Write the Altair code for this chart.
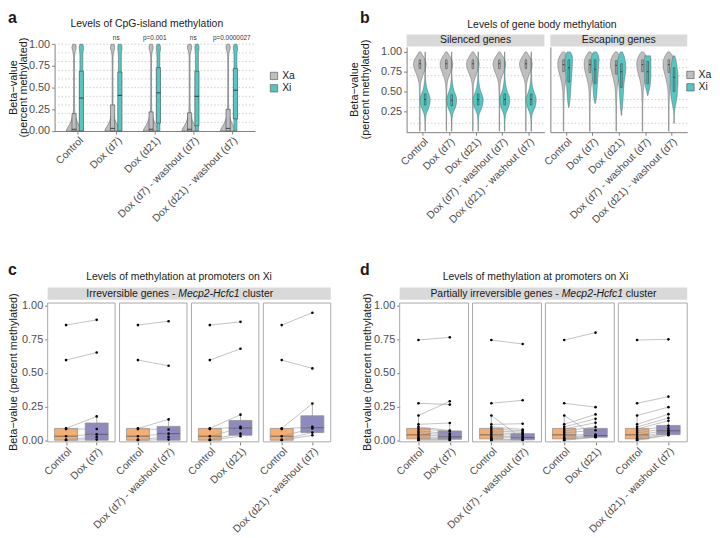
import json
import altair as alt
import pandas as pd

# ---------------- data ----------------
conditions = ["Control", "Dox (d7)", "Dox (d21)", "Dox (d7) - washout (d7)", "Dox (d21) - washout (d7)"]
alleles = ["Xa", "Xi"]

# panel a: CpG-island methylation violins (half-widths in category units at each beta level)
a_levels = [0.0, 0.02, 0.05, 0.1, 0.15, 0.2, 0.3, 0.5, 0.7, 0.85, 0.9, 0.93, 0.96, 0.98, 1.0]
a_xa_width = [0.20, 0.19, 0.15, 0.09, 0.05, 0.025, 0.012, 0.01, 0.01, 0.012, 0.02, 0.04, 0.055, 0.05, 0.03]
a_xi_width = [0.04, 0.04, 0.04, 0.04, 0.04, 0.04, 0.038, 0.038, 0.038, 0.038, 0.04, 0.05, 0.055, 0.05, 0.035]
a_xa_q1 = [0.0, 0.0, 0.0, 0.0, 0.0]
a_xa_med = [0.02, 0.03, 0.02, 0.02, 0.03]
a_xa_q3 = [0.20, 0.30, 0.22, 0.21, 0.25]
a_xi_q1 = [0.0, 0.0, 0.09, 0.06, 0.14]
a_xi_med = [0.38, 0.41, 0.44, 0.40, 0.47]
a_xi_q3 = [0.69, 0.68, 0.73, 0.69, 0.72]
a_pvalues = ["", "ns", "p=0.001", "ns", "p=0.0000027"]
a_grid = [0.1, 0.2, 0.3, 0.4, 0.5, 0.6, 0.7, 0.8, 0.9, 1.0]

# panel b: gene body methylation violins
b_levels = [0.0, 0.1, 0.2, 0.25, 0.3, 0.35, 0.4, 0.45, 0.5, 0.55, 0.6, 0.65, 0.7, 0.75, 0.8, 0.85, 0.9, 0.95, 1.0]
b_sil_xa_width = [0.01, 0.01, 0.01, 0.01, 0.01, 0.01, 0.012, 0.012, 0.015, 0.02, 0.03, 0.06, 0.11, 0.17, 0.22, 0.24, 0.2, 0.12, 0.03]
b_sil_xi_width = [0.008, 0.01, 0.03, 0.08, 0.14, 0.18, 0.19, 0.16, 0.1, 0.06, 0.035, 0.02, 0.012, 0.01, 0.01, 0.01, 0.008, 0.008, 0.006]
b_esc_xa_width = [0.01, 0.01, 0.01, 0.012, 0.012, 0.015, 0.02, 0.025, 0.03, 0.045, 0.07, 0.1, 0.14, 0.18, 0.21, 0.22, 0.2, 0.14, 0.04]
b_esc_xi_width = [
    [0.0, 0.0, 0.0, 0.0, 0.01, 0.03, 0.05, 0.06, 0.07, 0.08, 0.09, 0.1, 0.11, 0.12, 0.13, 0.14, 0.15, 0.13, 0.06],
    [0.0, 0.0, 0.0, 0.0, 0.0, 0.01, 0.04, 0.06, 0.07, 0.08, 0.09, 0.1, 0.11, 0.12, 0.13, 0.14, 0.15, 0.13, 0.06],
    [0.0, 0.0, 0.01, 0.02, 0.04, 0.05, 0.06, 0.07, 0.08, 0.09, 0.1, 0.12, 0.14, 0.16, 0.17, 0.16, 0.14, 0.1, 0.04],
    [0.0, 0.0, 0.0, 0.0, 0.0, 0.0, 0.0, 0.01, 0.04, 0.08, 0.1, 0.11, 0.12, 0.12, 0.12, 0.12, 0.12, 0.11, 0.0],
    [0.0, 0.01, 0.01, 0.02, 0.04, 0.07, 0.1, 0.12, 0.13, 0.14, 0.15, 0.15, 0.15, 0.14, 0.12, 0.1, 0.07, 0.03, 0.0],
]
b_sil_xa_q1 = [0.79, 0.79, 0.79, 0.79, 0.79]
b_sil_xa_med = [0.85, 0.85, 0.85, 0.85, 0.85]
b_sil_xa_q3 = [0.90, 0.90, 0.90, 0.90, 0.90]
b_sil_xi_q1 = [0.33, 0.32, 0.33, 0.33, 0.33]
b_sil_xi_med = [0.40, 0.39, 0.40, 0.40, 0.40]
b_sil_xi_q3 = [0.47, 0.46, 0.47, 0.47, 0.47]
b_esc_xa_q1 = [0.75, 0.74, 0.72, 0.75, 0.74]
b_esc_xa_med = [0.84, 0.84, 0.83, 0.84, 0.84]
b_esc_xa_q3 = [0.90, 0.90, 0.89, 0.90, 0.90]
b_esc_xi_q1 = [0.62, 0.60, 0.55, 0.60, 0.50]
b_esc_xi_med = [0.80, 0.78, 0.75, 0.75, 0.68]
b_esc_xi_q3 = [0.90, 0.90, 0.85, 0.88, 0.80]
b_grid = [0.1, 0.3, 0.4, 0.7, 0.8, 0.9]

# panel c: irreversible genes (control vs treatment, paired genes)
c_labels = ["Dox (d7)", "Dox (d7) - washout (d7)", "Dox (d21)", "Dox (d21) - washout (d7)"]
c_control = [0.856, 0.596, 0.088, 0.083, 0.03, 0.005, 0.0]
c_treated = [
    [0.895, 0.652, 0.177, 0.084, 0.044, 0.025, 0.005],
    [0.885, 0.554, 0.155, 0.080, 0.049, 0.025, 0.005],
    [0.880, 0.680, 0.190, 0.100, 0.090, 0.049, 0.030],
    [0.948, 0.534, 0.273, 0.100, 0.088, 0.057, 0.037],
]
# box summaries: lower whisker, q1, median, q3, upper whisker
c_control_box = [0.0, 0.0, 0.03, 0.088, 0.088]
c_treated_box = [
    [0.0, 0.0, 0.044, 0.128, 0.177],
    [0.0, 0.0, 0.049, 0.103, 0.155],
    [0.03, 0.037, 0.091, 0.147, 0.19],
    [0.037, 0.057, 0.093, 0.182, 0.273],
]

# panel d: partially irreversible genes
d_labels = ["Dox (d7)", "Dox (d7) - washout (d7)", "Dox (d21)", "Dox (d21) - washout (d7)"]
d_control = [0.745, 0.275, 0.184, 0.118, 0.099, 0.084, 0.069, 0.055, 0.04, 0.025, 0.015, 0.005, 0.0]
d_treated = [
    [0.765, 0.265, 0.290, 0.128, 0.072, 0.068, 0.050, 0.040, 0.030, 0.020, 0.012, 0.005, 0.0],
    [0.715, 0.297, 0.010, 0.123, 0.080, 0.070, 0.060, 0.050, 0.040, 0.030, 0.020, 0.005, 0.0],
    [0.800, 0.246, 0.030, 0.192, 0.160, 0.130, 0.098, 0.074, 0.042, 0.035, 0.030, 0.025, 0.022],
    [0.750, 0.324, 0.246, 0.194, 0.165, 0.145, 0.108, 0.088, 0.074, 0.060, 0.050, 0.042, 0.037],
]
d_control_box = [0.0, 0.01, 0.04, 0.088, 0.184]
d_treated_box = [
    [0.0, 0.007, 0.025, 0.069, 0.128],
    [0.0, 0.003, 0.02, 0.049, 0.08],
    [0.022, 0.022, 0.035, 0.088, 0.16],
    [0.037, 0.042, 0.07, 0.11, 0.194],
]

# ---------------- layout & style ----------------
FONT = "Liberation Sans"
GRAY, TEAL, ORANGE, PURPLE = "#bebebe", "#55c6c1", "#f5ae72", "#8e8ac0"
TXT = "#1a1a1a"
W, H = 710, 528

A_X, A_Y = [47, 249], [121.8, 34.3]
B1_X, B2_X, B_Y, B_DOM = [402, 541], [547, 685], [123, 37], [-0.0125, 1.0625]
C_X = [[40, 108], [112.5, 180.5], [185, 253], [257.5, 325.5]]
D_X = [[395, 464.5], [468.5, 538], [542, 611.5], [615.5, 685]]
CD_Y, CD_DOM = [435.3, 295.3], [-0.012, 1.02]
BOX_HW = 0.375

AX = dict(grid=False, title=None, domainColor="#808080", tickColor="#808080",
          labelColor="#4d4d4d", labelFont=FONT, tickSize=3)


def lin(domain, rng):
    return alt.Scale(domain=domain, range=rng, nice=False, zero=False)


def cond_axis(labels, bottom, domain=True):
    expr = json.dumps(labels) + "[datum.value - 1]"
    return alt.Axis(orient="bottom", offset=bottom - H, values=list(range(1, len(labels) + 1)),
                    labelExpr=expr, labelAngle=-45, labelAlign="right", labelBaseline="top",
                    labelOverlap=False, labelFlush=False, domain=domain, labelFontSize=10.5,
                    labelPadding=1, **AX)


def y_axis(left, values, labels=True, ticks=True, domain=True):
    return alt.Axis(orient="left", offset=-left, values=values, format=".2f", labels=labels,
                    ticks=ticks, domain=domain, labelOverlap=False, labelFontSize=11,
                    labelPadding=2, **AX)


def violin_df(levels, xa_widths, xi_widths):
    rows = []
    for allele, wl in (("Xa", xa_widths), ("Xi", xi_widths)):
        for i, ws in enumerate(wl):
            for beta, hw in zip(levels, ws):
                if hw > 0:
                    rows.append(dict(idx=i + 1, allele=allele, vid=f"{allele}{i}", beta=beta, hw=hw))
    return pd.DataFrame(rows)


def box_df(xa, xi):
    rows = []
    for allele, (q1s, meds, q3s) in (("Xa", xa), ("Xi", xi)):
        for i in range(len(conditions)):
            rows.append(dict(idx=i + 1, allele=allele, q1=q1s[i], med=meds[i], q3=q3s[i]))
    return pd.DataFrame(rows)


def violin_panel(vdf, bdf, xr, yr, ydom, dodge, box_hw, grid, yaxis, legend, pvals=None, lw=0.5):
    sx = lin([0.4, 5.6], xr)
    sy = lin(ydom, yr)
    fs = alt.Scale(domain=alleles, range=[GRAY, TEAL])
    centre = f"datum.idx + (datum.allele == 'Xa' ? {-dodge} : {dodge})"
    g = alt.Chart(pd.DataFrame({"g": grid})).mark_rule(
        color="#c4c4c4", strokeDash=[1.5, 2], strokeWidth=0.8).encode(
        y=alt.Y("g:Q", scale=sy, axis=yaxis),
        x=alt.XDatum(0.4, scale=sx, axis=None), x2=alt.X2Datum(5.6))
    v = alt.Chart(vdf).transform_calculate(
        left=f"{centre} - datum.hw", right=f"{centre} + datum.hw").mark_area(
        orient="horizontal", stroke="#555555", strokeWidth=lw, interpolate="monotone").encode(
        y=alt.Y("beta:Q", scale=sy, axis=None),
        x=alt.X("left:Q", scale=sx, axis=cond_axis(conditions, yr[0]), stack=None),
        x2="right:Q",
        fill=alt.Fill("allele:N", scale=fs, legend=legend),
        detail="vid:N")
    bx = alt.Chart(bdf).transform_calculate(cx=centre).transform_calculate(
        bl=f"datum.cx - {box_hw}", br=f"datum.cx + {box_hw}")
    b = bx.mark_rect(stroke="#333333", strokeWidth=0.5).encode(
        x=alt.X("bl:Q", scale=sx, axis=None), x2="br:Q",
        y=alt.Y("q1:Q", scale=sy, axis=None), y2="q3:Q",
        fill=alt.Fill("allele:N", scale=fs, legend=None))
    m = bx.mark_rule(color="#222222", strokeWidth=0.8).encode(
        x=alt.X("bl:Q", scale=sx, axis=None), x2="br:Q",
        y=alt.Y("med:Q", scale=sy, axis=None))
    layers = [g, v, b, m]
    if pvals is not None:
        pdf = pd.DataFrame({"idx": list(range(1, len(pvals) + 1)), "p": pvals})
        layers.append(alt.Chart(pdf).mark_text(font=FONT, fontSize=6.5, color="#333333", baseline="middle").encode(
            x=alt.X("idx:Q", scale=sx, axis=None), y=alt.value(28), text="p:N"))
    return layers


def pair_panel(xr, control, treated, cbox, tbox, tlabel, with_y):
    sx = lin([0.4, 2.6], xr)
    sy = lin(CD_DOM, CD_Y)
    rows = []
    for gi, (c, t) in enumerate(zip(control, treated)):
        rows.append(dict(gene=gi, idx=1, beta=c))
        rows.append(dict(gene=gi, idx=2, beta=t))
    pdf = pd.DataFrame(rows)
    bdf = pd.DataFrame({"idx": [1, 2], "grp": ["Control", "Treated"],
                        "lo": [cbox[0], tbox[0]], "q1": [cbox[1], tbox[1]], "med": [cbox[2], tbox[2]],
                        "q3": [cbox[3], tbox[3]], "hi": [cbox[4], tbox[4]]})
    yax = y_axis(xr[0], [0, 0.25, 0.5, 0.75, 1.0], domain=False) if with_y else None
    bx = alt.Chart(bdf).transform_calculate(bl=f"datum.idx - {BOX_HW}", br=f"datum.idx + {BOX_HW}")
    boxes = bx.mark_rect(stroke="#8c8c8c", strokeWidth=0.7).encode(
        x=alt.X("bl:Q", scale=sx, axis=None), x2="br:Q",
        y=alt.Y("q1:Q", scale=sy, axis=yax), y2="q3:Q",
        fill=alt.Fill("grp:N", scale=alt.Scale(domain=["Control", "Treated"], range=[ORANGE, PURPLE]), legend=None))
    wh = bx.mark_rule(color="#8c8c8c", strokeWidth=0.7).encode(
        x=alt.X("idx:Q", scale=sx, axis=cond_axis(["Control", tlabel], CD_Y[0], domain=False)),
        y=alt.Y("q3:Q", scale=sy, axis=None), y2="hi:Q")
    wl = bx.mark_rule(color="#8c8c8c", strokeWidth=0.7).encode(
        x=alt.X("idx:Q", scale=sx, axis=None),
        y=alt.Y("lo:Q", scale=sy, axis=None), y2="q1:Q")
    med = bx.mark_rule(color="#555555", strokeWidth=0.8).encode(
        x=alt.X("bl:Q", scale=sx, axis=None), x2="br:Q",
        y=alt.Y("med:Q", scale=sy, axis=None))
    lines = alt.Chart(pdf).mark_line(color="#9a9a9a", strokeWidth=0.6).encode(
        x=alt.X("idx:Q", scale=sx, axis=None), y=alt.Y("beta:Q", scale=sy, axis=None), detail="gene:N")
    pts = alt.Chart(pdf).mark_circle(color="black", size=7, opacity=1).encode(
        x=alt.X("idx:Q", scale=sx, axis=None), y=alt.Y("beta:Q", scale=sy, axis=None))
    border = alt.Chart(pd.DataFrame({"k": [0]})).mark_rect(
        fill="white", fillOpacity=0, stroke="#a8a8a8", strokeWidth=1).encode(
        x=alt.XDatum(0.4, scale=sx, axis=None), x2=alt.X2Datum(2.6),
        y=alt.YDatum(CD_DOM[0], scale=sy, axis=None), y2=alt.Y2Datum(CD_DOM[1]))
    return [boxes, wh, wl, med, lines, pts, border]


def text(t, x, y, size=10.5, weight="normal", style="normal", align="center", angle=0, baseline="middle"):
    return alt.Chart(pd.DataFrame({"t": [t]})).mark_text(
        font=FONT, fontSize=size, fontWeight=weight, fontStyle=style, align=align,
        baseline=baseline, angle=angle, color=TXT).encode(
        x=alt.value(x), y=alt.value(y), text="t:N")


def strip(x0, x1, y0, y1):
    return alt.Chart(pd.DataFrame({"s": [0]})).mark_rect(color="#d9d9d9").encode(
        x=alt.value(x0), x2=alt.value(x1), y=alt.value(y0), y2=alt.value(y1))


def legend(x, y):
    return alt.Legend(orient="none", legendX=x, legendY=y, title=None, symbolType="square",
                      symbolSize=55, symbolStrokeColor="#4d4d4d", symbolStrokeWidth=0.6,
                      labelFont=FONT, labelFontSize=10.5, labelColor=TXT, rowPadding=1.5,
                      padding=0, labelOffset=3)


# ---------------- panels ----------------
layers = []
layers += violin_panel(
    violin_df(a_levels, [a_xa_width] * 5, [a_xi_width] * 5),
    box_df((a_xa_q1, a_xa_med, a_xa_q3), (a_xi_q1, a_xi_med, a_xi_q3)),
    A_X, A_Y, [0, 1], 0.095, 0.055, a_grid,
    y_axis(A_X[0], [0, 0.25, 0.5, 0.75, 1.0]), legend(263, 61), pvals=a_pvalues)

layers += violin_panel(
    violin_df(b_levels, [b_sil_xa_width] * 5, [b_sil_xi_width] * 5),
    box_df((b_sil_xa_q1, b_sil_xa_med, b_sil_xa_q3), (b_sil_xi_q1, b_sil_xi_med, b_sil_xi_q3)),
    B1_X, B_Y, B_DOM, 0.1, 0.03, b_grid,
    y_axis(B1_X[0], [0.25, 0.5, 0.75, 1.0]), legend(683, 60), lw=0.4)

layers += violin_panel(
    violin_df(b_levels, [b_esc_xa_width] * 5, b_esc_xi_width),
    box_df((b_esc_xa_q1, b_esc_xa_med, b_esc_xa_q3), (b_esc_xi_q1, b_esc_xi_med, b_esc_xi_q3)),
    B2_X, B_Y, B_DOM, 0.1, 0.03, b_grid,
    y_axis(B2_X[0], [0.25, 0.5, 0.75, 1.0], labels=False, ticks=False), None, lw=0.4)

for i in range(4):
    layers += pair_panel(C_X[i], c_control, c_treated[i], c_control_box, c_treated_box[i], c_labels[i], i == 0)
for i in range(4):
    layers += pair_panel(D_X[i], d_control, d_treated[i], d_control_box, d_treated_box[i], d_labels[i], i == 0)

layers += [
    text("a", 0, 13, size=16, weight="bold", align="left", baseline="alphabetic"),
    text("b", 355, 13, size=16, weight="bold", align="left", baseline="alphabetic"),
    text("c", 0, 267, size=16, weight="bold", align="left", baseline="alphabetic"),
    text("d", 355, 267, size=16, weight="bold", align="left", baseline="alphabetic"),
    text("Levels of CpG-island methylation", 140, 14),
    text("Levels of gene body methylation", 538.5, 15),
    text("Levels of methylation at promoters on Xi", 172.5, 269.5),
    text("Levels of methylation at promoters on Xi", 532, 269.5),
    text("Beta\u2212value", 6, 78, size=11, angle=270),
    text("(percent methylated)", 16.5, 78, size=11, angle=270),
    text("Beta\u2212value", 350, 80, size=11, angle=270),
    text("(percent methylated)", 361, 80, size=11, angle=270),
    text("Beta\u2212value (percent methylated)", 6, 365, size=11, angle=270),
    text("Beta\u2212value (percent methylated)", 363, 365, size=11, angle=270),
    strip(B1_X[0], B1_X[1], 24.5, 36.5),
    strip(B2_X[0], B2_X[1], 24.5, 36.5),
    text("Silenced genes", 471.5, 30.5),
    text("Escaping genes", 616, 30.5),
    strip(C_X[0][0], C_X[3][1], 279.7, 292),
    text("Irreversible genes -", 79, 286, align="left"),
    text("Mecp2-Hcfc1", 171.8, 286, align="left", style="italic"),
    text("cluster", 236.5, 286, align="left"),
    strip(D_X[0][0], D_X[3][1], 279.7, 292),
    text("Partially irreversible genes -", 426, 286, align="left"),
    text("Mecp2-Hcfc1", 558.4, 286, align="left", style="italic"),
    text("cluster", 623.1, 286, align="left"),
]

chart = alt.layer(*layers).resolve_scale(
    x="independent", y="independent", fill="independent"
).properties(
    width=W, height=H, autosize="none", padding=0, background="white"
).configure_view(stroke=None)

chart.save("out.html", embed_options={"renderer": "svg", "actions": False})
